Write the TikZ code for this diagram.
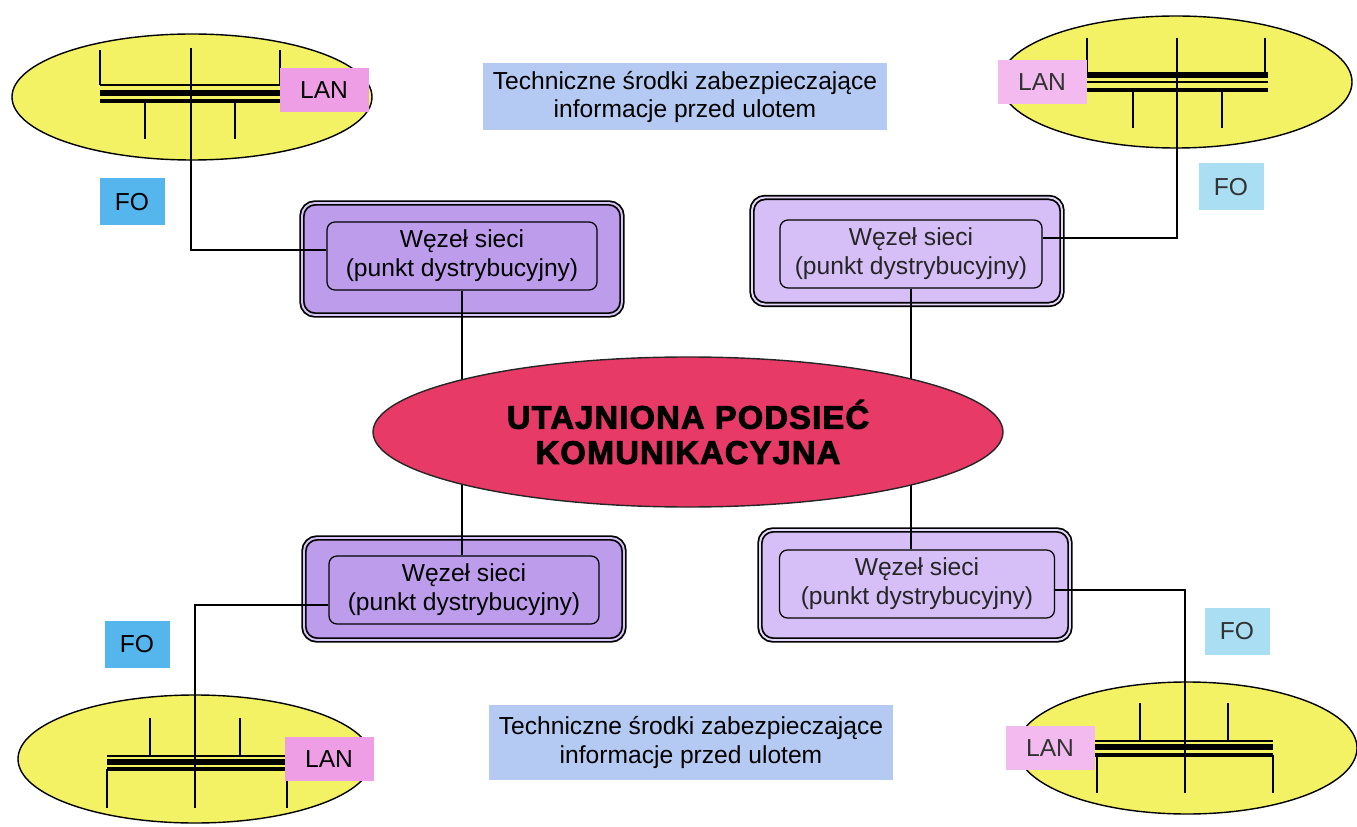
\documentclass[tikz,border=0pt]{standalone}
\usepackage{fontspec}
\setmainfont{Liberation Sans}
\newfontfamily\heavyfont[FakeBold=3,LetterSpace=4]{Liberation Sans Bold}
\usetikzlibrary{shapes.geometric}
\definecolor{lanyellow}{RGB}{242,242,100}
\definecolor{lanpink}{RGB}{238,158,228}
\definecolor{lanpinkl}{RGB}{242,186,238}
\definecolor{foblue}{RGB}{84,182,236}
\definecolor{fobluel}{RGB}{170,222,242}
\definecolor{notebl}{RGB}{180,202,242}
\definecolor{nodepur}{RGB}{190,156,236}
\definecolor{nodepurl}{RGB}{214,190,246}
\definecolor{netred}{RGB}{232,58,102}
\tikzset{
  wezelout/.style={draw,rounded corners=2.6mm,line width=1pt,double=#1!60!white,double distance=1.1pt,fill=#1,minimum width=63mm,minimum height=21.6mm,inner sep=0pt},
  wezelin/.style={draw,rounded corners=1.6mm,line width=0.7pt,minimum width=54mm,minimum height=13.6mm,inner sep=0pt,align=center,font=\fontsize{14}{16.5}\selectfont},
  lanbox/.style={fill=#1,minimum width=17.8mm,minimum height=8.9mm,inner sep=0pt,font=\fontsize{14}{16}\selectfont},
  fobox/.style={fill=#1,minimum width=13mm,minimum height=9.4mm,inner sep=0pt,font=\fontsize{14}{16}\selectfont},
  notebox/.style={fill=notebl,minimum width=80.8mm,minimum height=13.4mm,inner sep=0pt,align=center,font=\fontsize{14}{16.5}\selectfont},
  lanell/.style={fill=lanyellow,draw=black,line width=0.8pt},
  busthin/.style={line width=1.2pt},
  busthick/.style={line width=3pt},
  busmed/.style={line width=2pt},
  tick/.style={line width=0.9pt},
  link/.style={line width=0.6pt}
}
\begin{document}
\begin{tikzpicture}[x=0.2mm,y=-0.2mm]
\useasboundingbox (0,0) rectangle (1357,827);
% opisy
\node[notebox] (noteT) at (685,97) {Techniczne środki zabezpieczające\\informacje przed ulotem};
\node[notebox,minimum height=15mm] (noteB) at (691,742) {Techniczne środki zabezpieczające\\informacje przed ulotem};
\node[fobox=foblue] (foTL) at (132,202) {FO};
\node[fobox=fobluel,text=black!80] (foTR) at (1231,187) {FO};
\node[fobox=foblue] (foBL) at (137,644) {FO};
\node[fobox=fobluel,text=black!80] (foBR) at (1237,631) {FO};
% LAN lewy gorny
\filldraw[lanell] (192,97) ellipse [x radius=180,y radius=63];
\draw[busthin] (100,85)--(282,85);
\draw[busthick] (100,93)--(282,93);
\draw[busmed] (100,101)--(282,101);
\foreach \x in {100,280} \draw[tick] (\x,50)--(\x,85);
\foreach \x in {145,235} \draw[tick] (\x,101)--(\x,139);
\coordinate (tapTL) at (191,48);
\node[lanbox=lanpink] (lanTL) at (324,90) {LAN};
% LAN prawy gorny
\filldraw[lanell] (1176,82) ellipse [x radius=176,y radius=66];
\draw[busthick] (1087,75)--(1268,75);
\draw[busthin] (1087,82)--(1268,82);
\draw[busmed] (1087,90)--(1268,90);
\foreach \x in {1087,1265} \draw[tick] (\x,38)--(\x,75);
\foreach \x in {1133,1222} \draw[tick] (\x,90)--(\x,128);
\coordinate (tapTR) at (1177,38);
\node[lanbox=lanpinkl,text=black!80] (lanTR) at (1042,82) {LAN};
% LAN lewy dolny
\filldraw[lanell] (195,759) ellipse [x radius=177,y radius=64];
\draw[busthin] (107,756)--(287,756);
\draw[busthick] (107,762)--(287,762);
\draw[busmed] (107,769)--(287,769);
\foreach \x in {150,240} \draw[tick] (\x,718)--(\x,756);
\foreach \x in {107,287} \draw[tick] (\x,769)--(\x,808);
\coordinate (tapBL) at (195,808);
\node[lanbox=lanpink] (lanBL) at (329,759) {LAN};
% LAN prawy dolny
\filldraw[lanell] (1187,748) ellipse [x radius=170,y radius=66];
\draw[busthin] (1095,741)--(1273,741);
\draw[busthick] (1095,747)--(1273,747);
\draw[busmed] (1095,755)--(1273,755);
\foreach \x in {1140,1228} \draw[tick] (\x,703)--(\x,741);
\foreach \x in {1097,1273} \draw[tick] (\x,755)--(\x,793);
\coordinate (tapBR) at (1185,793);
\node[lanbox=lanpinkl,text=black!80] (lanBR) at (1050,748) {LAN};
% wezly sieci
\node[wezelout=nodepur,minimum width=64mm,minimum height=22.4mm] (wTL) at (462,259) {};
\node[wezelin] (wTLin) at (462,256) {Węzeł sieci\\(punkt dystrybucyjny)};
\node[wezelout=nodepurl,minimum width=62mm,minimum height=21.4mm] (wTR) at (907,251) {};
\node[wezelin,minimum width=52.4mm,text=black!85] (wTRin) at (911,254) {Węzeł sieci\\(punkt dystrybucyjny)};
\node[wezelout=nodepur,minimum width=64mm,minimum height=20.4mm] (wBL) at (464,589) {};
\node[wezelin] (wBLin) at (464,590) {Węzeł sieci\\(punkt dystrybucyjny)};
\node[wezelout=nodepurl,minimum width=62mm,minimum height=22mm] (wBR) at (915,585) {};
\node[wezelin,minimum width=55mm,text=black!85] (wBRin) at (917,584) {Węzeł sieci\\(punkt dystrybucyjny)};
% polaczenia przez podsiec
\draw[link] (wTLin.south)--(wTLin.south |- wBLin.north);
\draw[link] (wTRin.south)--(wTRin.south |- wBRin.north);
% podsiec
\node[ellipse,draw=black!85,line width=0.8pt,fill=netred,minimum width=126mm,minimum height=30mm,inner sep=0pt,align=center,font=\heavyfont\fontsize{18.5}{20}\selectfont] (siec) at (688,432) {UTAJNIONA PODSIEĆ\\KOMUNIKACYJNA};
% dolaczenie LAN
\draw[link] (tapTL) |- ([yshift=1.2mm]wTLin.west);
\draw[link] (tapTR) |- ([yshift=3.2mm]wTRin.east);
\draw[link] (tapBL) |- ([yshift=-3mm]wBLin.west);
\draw[link] (tapBR) |- ([yshift=-1.2mm]wBRin.east);
\end{tikzpicture}
\end{document}
